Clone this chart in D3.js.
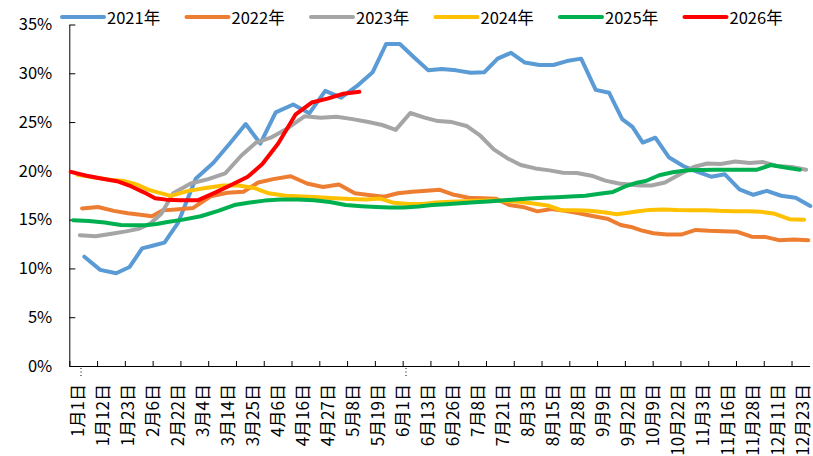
<!DOCTYPE html>
<html>
<head>
<meta charset="utf-8">
<script src="https://cdn.jsdelivr.net/npm/d3@7"></script>
<style>
  body { margin: 0; background: #fff; }
  text { font-family: "Noto Sans CJK SC", "Noto Sans", sans-serif; fill: #000; }
</style>
</head>
<body>
<div id="chart"></div>
<script>
// axis category labels (every 9th category of the sheet)
const labels = ["1月1日","1月12日","1月23日","2月6日","2月22日","3月4日","3月14日","3月25日","4月6日","4月16日",
  "4月27日","5月8日","5月19日","6月1日","6月13日","6月26日","7月8日","7月21日","8月3日","8月15日",
  "8月28日","9月9日","9月22日","10月9日","10月22日","11月3日","11月16日","11月28日","12月11日","12月23日"];

const years = ["2021年","2022年","2023年","2024年","2025年","2026年"];
const colors = ["#5B9BD5","#ED7D31","#A5A5A5","#FFC000","#00B050","#FF0000"];
// day of year of the first weekly observation for each year
const startDays = [6, 5, 4, 3, 1, 0];

const v2021 = [11.2,9.85,9.5,10.15,12.05,12.35,12.65,14.7,19.2,20.8,22.8,24.8,22.8,26.0,26.8,25.9,28.2,27.5,28.7,30.1,
  33.0,33.0,31.6,30.3,30.45,30.3,30.05,30.1,31.5,32.1,31.1,30.85,30.85,31.25,31.5,28.3,28.0,25.3,24.5,22.9,
  23.4,21.4,20.5,19.9,19.4,19.65,18.1,17.55,17.95,17.45,17.25,16.4];
const v2022 = [16.15,16.3,15.9,15.65,15.5,15.35,15.95,16.05,16.2,17.4,17.75,17.85,18.8,19.15,19.45,18.7,18.35,18.6,17.7,17.5,
  17.35,17.7,17.85,17.95,18.06,17.55,17.25,17.2,17.15,16.5,16.3,15.85,16.1,15.9,15.65,15.35,15.1,14.45,14.25,13.9,
  13.6,13.47,13.47,13.95,13.85,13.8,13.75,13.25,13.23,12.9,12.96,12.9];
const v2023 = [13.4,13.3,13.55,13.8,14.05,14.6,15.6,17.7,18.7,19.15,19.75,21.55,22.9,23.4,24.4,25.6,25.45,25.55,25.3,25.0,
  24.7,24.2,25.93,25.45,25.1,25.0,24.6,23.6,22.2,21.3,20.6,20.25,20.05,19.8,19.78,19.5,19.0,18.7,18.6,18.5,
  18.5,18.8,19.6,20.4,20.75,20.7,20.95,20.8,20.9,20.5,20.4,20.12];
const v2024 = [19.6,19.35,19.1,18.95,18.6,18.05,17.75,17.43,17.95,18.25,18.5,18.5,18.25,17.7,17.45,17.37,17.3,17.2,17.12,17.06,
  17.16,16.72,16.6,16.6,16.75,16.83,16.88,16.94,16.98,16.92,16.83,16.65,16.45,15.97,15.97,15.9,15.75,15.56,15.7,15.85,
  16.0,16.03,15.98,15.97,15.97,15.9,15.86,15.86,15.8,15.6,15.05,15.0];
const v2025 = [14.94,14.85,14.7,14.45,14.43,14.43,14.55,14.75,15.0,15.35,15.9,16.5,16.75,16.95,17.06,17.06,16.98,16.8,16.5,16.38,
  16.3,16.25,16.25,16.35,16.5,16.58,16.68,16.78,16.87,16.97,17.06,17.16,17.25,17.3,17.36,17.45,17.65,17.84,18.4,18.75,
  18.96,19.55,19.85,20.06,20.1,20.12,20.12,20.12,20.12,20.6,20.35,20.12];
const v2026 = [19.9,19.5,19.2,18.9,18.4,17.8,17.2,17.05,17.0,17.0,17.8,18.6,19.4,20.7,22.8,25.8,27.0,27.4,27.9,28.1];

const seriesValues = [v2021, v2022, v2023, v2024, v2025, v2026];
const yTicks = [0, 5, 10, 15, 20, 25, 30, 35];

const width = 813, height = 456;
const svg = d3.select("#chart").append("svg").attr("width", width).attr("height", height);

const dayOfYear = s => {
  const m = s.match(/(\d+)月(\d+)日/);
  return d3.timeDay.count(new Date(2021, 0, 1), new Date(2021, +m[1] - 1, +m[2]));
};

// category axis: 266 categories, labels every 9, tick marks every 10
const xCat = d3.scaleLinear().domain([-0.5, 266]).range([69.3, 809.6]);
const labelCat = (d, i) => i * 9;
const xDay = d3.scaleLinear()
  .domain(labels.map(dayOfYear))
  .range(labels.map((d, i) => xCat(labelCat(d, i))));
const y = d3.scaleLinear().domain([0, 35]).range([366, 24.5]);

// axes
svg.append("g")
  .attr("transform", "translate(0,366)")
  .call(d3.axisBottom(xCat).tickValues(d3.range(-0.5, 266, 10)).tickSize(-5).tickSizeOuter(0).tickFormat(""))
  .call(g => g.selectAll("line, path").attr("stroke", "#000"));

svg.append("g")
  .attr("transform", "translate(69.3,0)")
  .call(d3.axisLeft(y).tickValues(yTicks).tickSize(-6).tickSizeOuter(0).tickPadding(17).tickFormat(d => d + "%"))
  .call(g => g.selectAll("line, path").attr("stroke", "#000"))
  .call(g => g.selectAll("text").attr("font-size", 16.5).attr("font-family", null));

// x labels, rotated
const xl = svg.append("g");
labels.forEach((l, i) => {
  const cx = xCat(labelCat(l, i)) + 6;
  xl.append("text")
    .attr("transform", `translate(${cx},384) rotate(-90)`)
    .attr("text-anchor", "end")
    .attr("dominant-baseline", "central")
    .attr("font-size", 17)
    .text(l);
  if (l.endsWith("月1日")) {
    xl.append("line")
      .attr("x1", cx + 4.3).attr("x2", cx + 4.3)
      .attr("y1", 368).attr("y2", 378)
      .attr("stroke", "#000").attr("stroke-dasharray", "1,2.5");
  }
});

// lines
const line = d3.line()
  .x(d => xDay(d.day))
  .y(d => y(d.value));

seriesValues.forEach((vals, s) => {
  const pts = vals.map((v, i) => ({ day: startDays[s] + i * 7, value: v }));
  svg.append("path")
    .datum(pts)
    .attr("d", line)
    .attr("fill", "none")
    .attr("stroke", colors[s])
    .attr("stroke-width", 4)
    .attr("stroke-linejoin", "round")
    .attr("stroke-linecap", "round");
});

// legend
const lg = svg.append("g");
years.forEach((name, i) => {
  const x0 = 62 + i * 124.5;
  lg.append("line")
    .attr("x1", x0).attr("x2", x0 + 42)
    .attr("y1", 17).attr("y2", 17)
    .attr("stroke", colors[i]).attr("stroke-width", 4)
    .attr("stroke-linecap", "round");
  lg.append("text")
    .attr("x", x0 + 45).attr("y", 17)
    .attr("dominant-baseline", "central")
    .attr("font-size", 16.5)
    .text(name);
});
</script>
</body>
</html>
